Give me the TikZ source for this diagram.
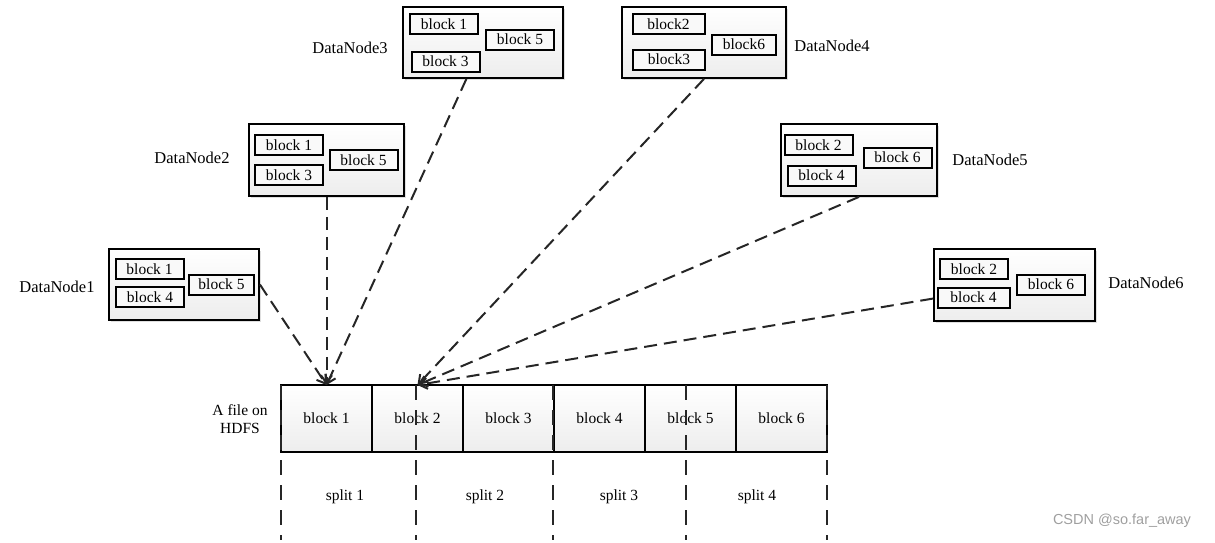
\documentclass[tikz,border=0pt]{standalone}
\usepackage{fontspec}
\setmainfont{Liberation Serif}
\newfontfamily\wmfont{Liberation Sans}
\usetikzlibrary{arrows.meta,shadows}
\tikzset{
  dnbox/.style={draw,line width=1.8pt,top color=white,bottom color=gray!14,
    drop shadow={opacity=0.25,shadow xshift=2pt,shadow yshift=-2pt}},
  blk/.style={draw,line width=2pt,fill=gray!5,minimum width=68pt,minimum height=20pt,
    inner sep=1pt,font=\fontsize{15.5}{17}\selectfont},
  dnlabel/.style={font=\fontsize{16.5}{18}\selectfont},
  cell/.style={draw,line width=1.8pt,top color=white,bottom color=gray!14,outer sep=0pt,
    minimum width=91pt,minimum height=67pt,font=\fontsize{15.5}{17}\selectfont},
  link/.style={line width=2pt,dash pattern=on 13pt off 7pt,gray!30!black,-{Straight Barb[length=8pt,width=11pt]}},
  splitline/.style={line width=2pt,dash pattern=on 15pt off 10pt,gray!30!black},
}
\begin{document}
\begin{tikzpicture}[x=1pt,y=-1pt]
\useasboundingbox (0,0) rectangle (1215,542);
% datanodes
\node[dnbox,minimum width=150pt,minimum height=71pt] (dn1) at (184,284.5) {};
\node[blk] (dn1b1) at (149.5,269) {block 1};
\node[blk] (dn1b4) at (150,297) {block 4};
\node[blk,minimum width=65pt] (dn1b5) at (221.5,284.5) {block 5};
\node[dnlabel] (dn1l) at (57,287) {DataNode1};

\node[dnbox,minimum width=155pt,minimum height=72pt] (dn2) at (326.5,160) {};
\node[blk] (dn2b1) at (289,145) {block 1};
\node[blk] (dn2b3) at (289,175) {block 3};
\node[blk] (dn2b5) at (363.5,160) {block 5};
\node[dnlabel] (dn2l) at (192,158) {DataNode2};

\node[dnbox,minimum width=160pt,minimum height=71pt] (dn3) at (483,42.5) {};
\node[blk] (dn3b1) at (444,24) {block 1};
\node[blk] (dn3b5) at (520,39.5) {block 5};
\node[blk] (dn3b3) at (445.5,61.5) {block 3};
\node[dnlabel] (dn3l) at (350,48) {DataNode3};

\node[dnbox,minimum width=164pt,minimum height=71pt] (dn4) at (704,42.5) {};
\node[blk,minimum width=72pt] (dn4b2) at (668.5,24) {block2};
\node[blk,minimum width=72pt] (dn4b3) at (669,59.5) {block3};
\node[blk,minimum width=64pt] (dn4b6) at (744,44.5) {block6};
\node[dnlabel] (dn4l) at (832,46) {DataNode4};

\node[dnbox,minimum width=156pt,minimum height=72pt] (dn5) at (859,160) {};
\node[blk] (dn5b2) at (818.5,145) {block 2};
\node[blk] (dn5b4) at (821.5,175.5) {block 4};
\node[blk] (dn5b6) at (897.5,157.5) {block 6};
\node[dnlabel] (dn5l) at (990,160) {DataNode5};

\node[dnbox,minimum width=161pt,minimum height=72pt] (dn6) at (1014.5,285) {};
\node[blk] (dn6b2) at (974,269) {block 2};
\node[blk,minimum width=72pt] (dn6b4) at (973.5,297.5) {block 4};
\node[blk] (dn6b6) at (1051,284.5) {block 6};
\node[dnlabel] (dn6l) at (1146,283) {DataNode6};

% the file
\node[align=center,font=\fontsize{15.5}{18}\selectfont] (file) at (240,419) {A file on\\HDFS};
\foreach \i in {1,...,6}
  \node[cell] (c\i) at (235.5+91*\i,418.5) {block \i};

% splits
\foreach \x in {281,416,553,686,827}
  \draw[splitline] (\x,385) -- (\x,540);
\foreach \t/\x in {1/345,2/485,3/619,4/757}
  \node[font=\fontsize{15.5}{17}\selectfont] (s\t) at (\x,497) {split \t};

% links
\draw[link] (dn1.east) -- (c1.north);
\draw[link] (dn2.south) -- (c1.north);
\draw[link] (dn3) -- (c1.north);
\draw[link] (dn4.south) -- (c2.north);
\draw[link] (dn5.south) -- (c2.north);
\draw[link] (dn6) -- (c2.north);

\node[font=\wmfont\fontsize{14.5}{16}\selectfont,text=gray!75] (wm) at (1122,521) {CSDN @so.far\_away};
\end{tikzpicture}
\end{document}
